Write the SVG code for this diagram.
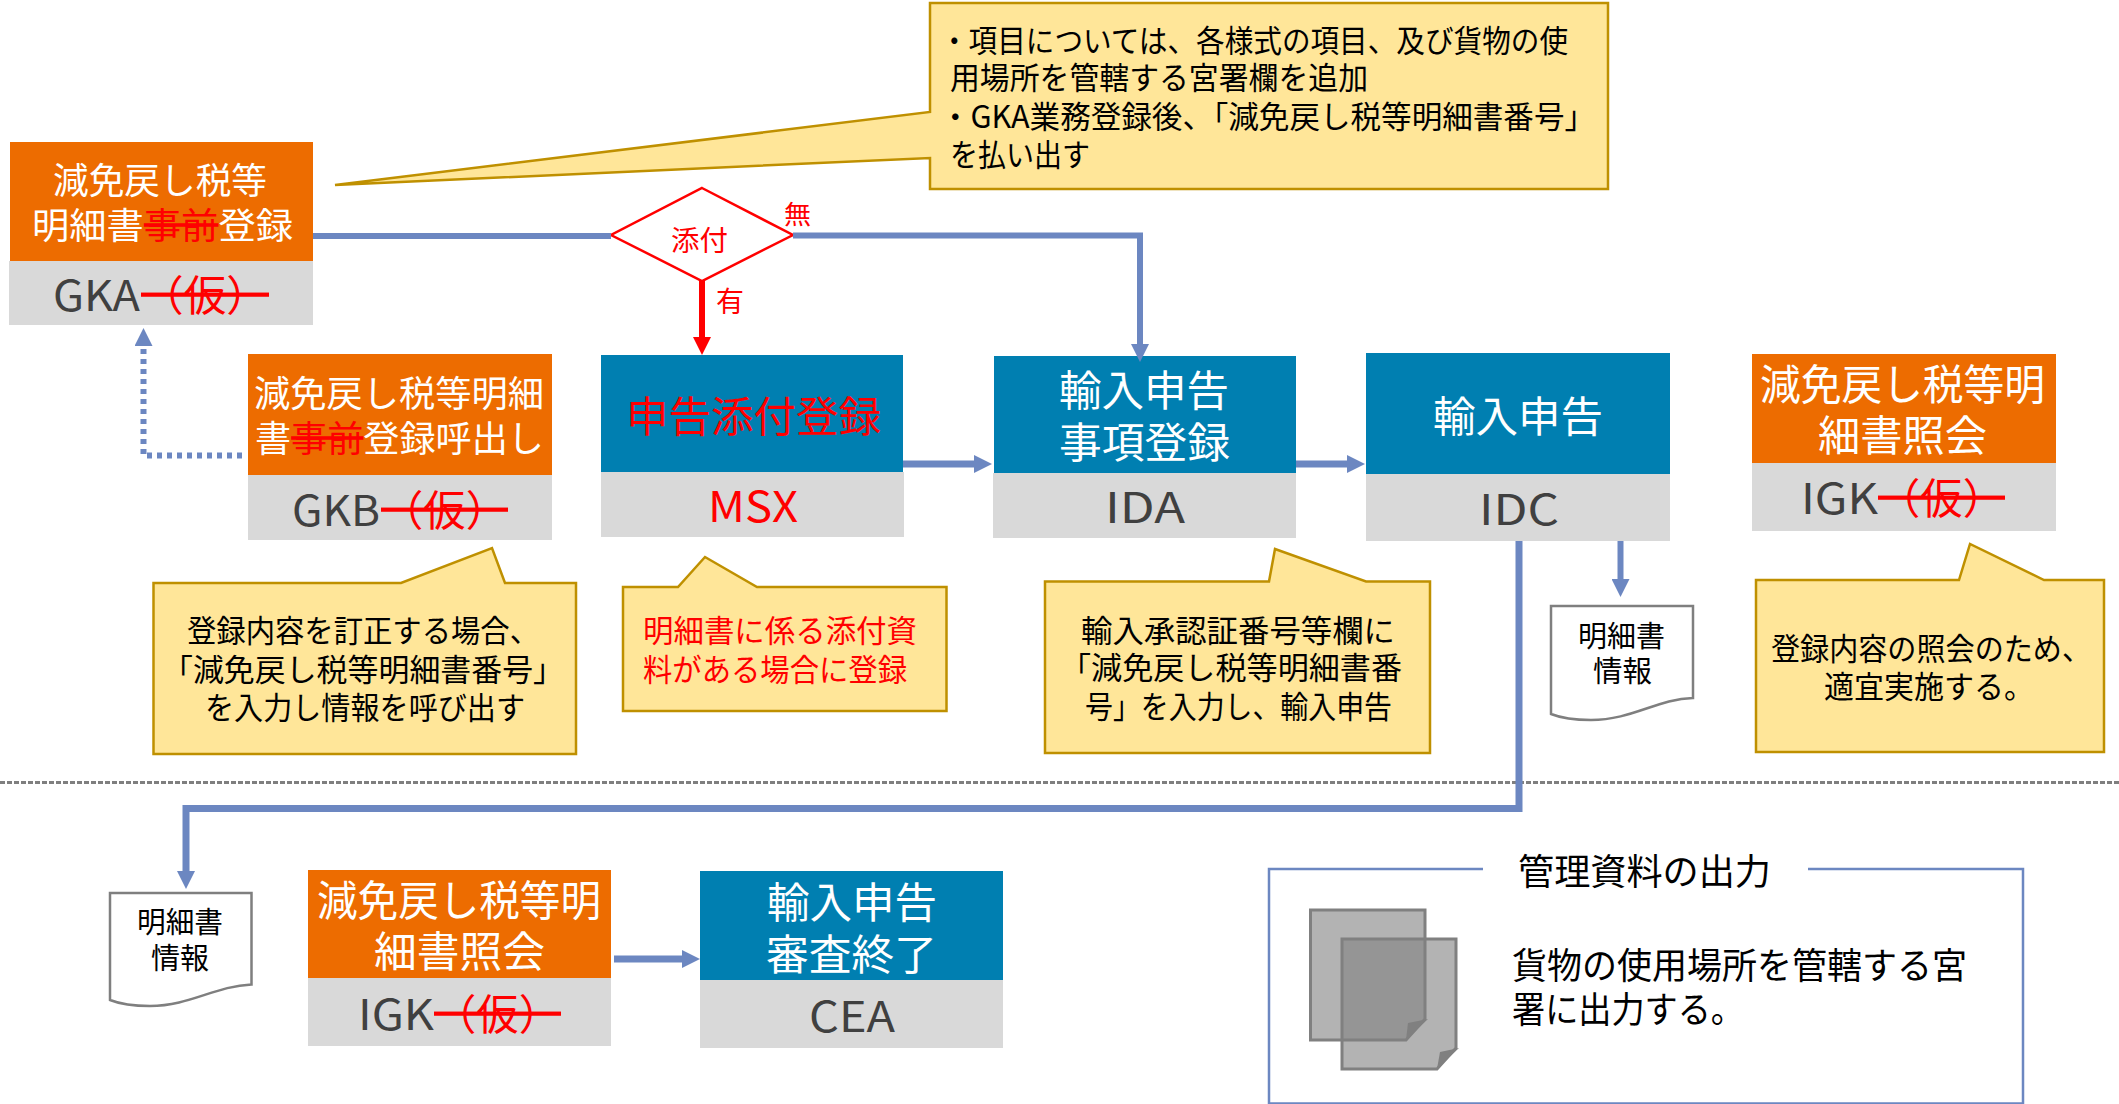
<svg xmlns="http://www.w3.org/2000/svg" width="2119" height="1104" viewBox="0 0 2119 1104">
<style>
text{font-family:"Noto Sans CJK JP","Noto Sans",sans-serif;}
.w{fill:#fff}.k{fill:#000}.d{fill:#404040}.r{fill:#f00}
.s{fill:#f00;text-decoration:line-through}
.t{font-size:36px}.c{font-size:42px}.n{font-size:31px}.m{font-size:29px}.b{font-size:36px}
.o{fill:#ED6C00}.u{fill:#007FB1}.g{fill:#D9D9D9}
.y{fill:#FFE699;stroke:#BF9000;stroke-width:2.5}
.doc{fill:#fff;stroke:#7F7F7F;stroke-width:2.5}
.pg{fill:#808080;fill-opacity:.6;stroke:#808080;stroke-width:3}
.fold{fill:#808080}
.l{fill:none;stroke:#6C87C1}
</style>
<defs>
<marker id="ab" markerUnits="userSpaceOnUse" markerWidth="18" markerHeight="18" viewBox="0 0 18 18" refX="4" refY="9" orient="auto"><path d="M0 0L18 9L0 18Z" fill="#6C87C1"/></marker>
<marker id="ar" markerUnits="userSpaceOnUse" markerWidth="18" markerHeight="18" viewBox="0 0 18 18" refX="4" refY="9" orient="auto"><path d="M0 0L18 9L0 18Z" fill="#f00"/></marker>
</defs>
<g id="divider"><line x1="0" y1="782.5" x2="2119" y2="782.5" stroke="#7F7F7F" stroke-width="3" stroke-dasharray="5 2"/></g>
<g id="node-GKA"><rect class="o" x="10" y="142" width="303" height="119"/><rect class="g" x="9" y="261" width="304" height="64"/>
<text class="t w" x="53" y="194" textLength="214" lengthAdjust="spacingAndGlyphs">減免戻し税等</text>
<text class="t w" x="32" y="239" textLength="261" lengthAdjust="spacingAndGlyphs">明細書<tspan class="s">事前</tspan>登録</text>
<text class="c d" x="53" y="311"><tspan textLength="87" lengthAdjust="spacingAndGlyphs">GKA</tspan><tspan class="s" x="141" textLength="128" lengthAdjust="spacingAndGlyphs">（仮）</tspan></text></g>
<g id="node-GKB"><rect class="o" x="248" y="354" width="304" height="121"/><rect class="g" x="248" y="475" width="304" height="65"/>
<text class="t w" x="254" y="407" textLength="290" lengthAdjust="spacingAndGlyphs">減免戻し税等明細</text>
<text class="t w" x="255" y="452" textLength="289" lengthAdjust="spacingAndGlyphs">書<tspan class="s">事前</tspan>登録呼出し</text>
<text class="c d" x="292" y="526"><tspan textLength="88" lengthAdjust="spacingAndGlyphs">GKB</tspan><tspan class="s" x="381" textLength="127" lengthAdjust="spacingAndGlyphs">（仮）</tspan></text></g>
<g id="node-MSX"><rect class="u" x="601" y="355" width="302" height="117"/><rect class="g" x="601" y="472" width="303" height="65"/>
<text class="c r" x="626" y="432" textLength="255" lengthAdjust="spacingAndGlyphs">申告添付登録</text>
<text class="c r" x="708" y="522" textLength="90" lengthAdjust="spacingAndGlyphs">MSX</text></g>
<g id="node-IDA"><rect class="u" x="994" y="356" width="302" height="117"/><rect class="g" x="993" y="473" width="303" height="65"/>
<text class="c w" x="1059" y="406" textLength="170" lengthAdjust="spacingAndGlyphs">輸入申告</text>
<text class="c w" x="1059" y="458" textLength="171" lengthAdjust="spacingAndGlyphs">事項登録</text>
<text class="c d" x="1105" y="523" textLength="80" lengthAdjust="spacingAndGlyphs">IDA</text></g>
<g id="node-IDC"><rect class="u" x="1366" y="353" width="304" height="121"/><rect class="g" x="1366" y="474" width="304" height="67"/>
<text class="c w" x="1433" y="432" textLength="170" lengthAdjust="spacingAndGlyphs">輸入申告</text>
<text class="c d" x="1479" y="525" textLength="80" lengthAdjust="spacingAndGlyphs">IDC</text></g>
<g id="node-IGK-top"><rect class="o" x="1752" y="354" width="304" height="109"/><rect class="g" x="1752" y="463" width="304" height="68"/>
<text class="c w" x="1760" y="400" textLength="285" lengthAdjust="spacingAndGlyphs">減免戻し税等明</text>
<text class="c w" x="1818" y="451" textLength="169" lengthAdjust="spacingAndGlyphs">細書照会</text>
<text class="c d" x="1801" y="514"><tspan textLength="77" lengthAdjust="spacingAndGlyphs">IGK</tspan><tspan class="s" x="1878" textLength="127" lengthAdjust="spacingAndGlyphs">（仮）</tspan></text></g>
<g id="node-diamond"><path d="M702 188L793 235L702 281L611 235Z" fill="#fff" stroke="#f00" stroke-width="2.500"/>
<text class="r" font-size="28" x="671" y="251" textLength="57" lengthAdjust="spacingAndGlyphs">添付</text></g>
<g id="label-none"><text class="r" font-size="26" x="784" y="224" textLength="27" lengthAdjust="spacingAndGlyphs">無</text></g>
<g id="label-yes"><text class="r" font-size="28" x="716" y="312" textLength="28" lengthAdjust="spacingAndGlyphs">有</text></g>
<g id="note-top"><path class="y" d="M930 3H1608V189H930V158L335 185L930 112Z"/>
<text class="n k" x="940" y="52" textLength="628" lengthAdjust="spacingAndGlyphs">・項目については、各様式の項目、及び貨物の使</text>
<text class="n k" x="950" y="89" textLength="418" lengthAdjust="spacingAndGlyphs">用場所を管轄する宮署欄を追加</text>
<text class="n k" x="940" y="128" textLength="655" lengthAdjust="spacingAndGlyphs">・GKA業務登録後、「減免戻し税等明細書番号」</text>
<text class="n k" x="950" y="166" textLength="140" lengthAdjust="spacingAndGlyphs">を払い出す</text></g>
<g id="note-GKB"><path class="y" d="M153.500 583H401L492 548L505 583H576V754H153.500Z"/>
<text class="n k" x="187" y="642" textLength="352" lengthAdjust="spacingAndGlyphs">登録内容を訂正する場合、</text>
<text class="n k" x="162" y="681" textLength="402" lengthAdjust="spacingAndGlyphs">「減免戻し税等明細書番号」</text>
<text class="n k" x="205" y="719" textLength="320" lengthAdjust="spacingAndGlyphs">を入力し情報を呼び出す</text></g>
<g id="note-MSX"><path class="y" d="M623 587H678L705 557L757 587H946.500V711H623Z"/>
<text class="n r" x="643" y="642" textLength="274" lengthAdjust="spacingAndGlyphs">明細書に係る添付資</text>
<text class="n r" x="643" y="681" textLength="264" lengthAdjust="spacingAndGlyphs">料がある場合に登録</text></g>
<g id="note-IDA"><path class="y" d="M1045 581.500H1269L1275 549L1366 581.500H1430V753H1045Z"/>
<text class="n k" x="1081" y="642" textLength="314" lengthAdjust="spacingAndGlyphs">輸入承認証番号等欄に</text>
<text class="n k" x="1060" y="679" textLength="342" lengthAdjust="spacingAndGlyphs">「減免戻し税等明細書番</text>
<text class="n k" x="1085" y="718" textLength="307" lengthAdjust="spacingAndGlyphs">号」を入力し、輸入申告</text></g>
<g id="note-IGK"><path class="y" d="M1756 580H1959L1970 544L2044 580H2104V752H1756Z"/>
<text class="n k" x="1771" y="660" textLength="320" lengthAdjust="spacingAndGlyphs">登録内容の照会のため、</text>
<text class="n k" x="1824" y="698" textLength="210" lengthAdjust="spacingAndGlyphs">適宜実施する。</text></g>
<g id="doc-upper"><path class="doc" d="M1551 606H1693V698C1657 699 1632 720 1591 720C1573 720 1561 718 1551 714Z"/>
<text class="m k" x="1578" y="647" textLength="87" lengthAdjust="spacingAndGlyphs">明細書</text>
<text class="m k" x="1593" y="682" textLength="59" lengthAdjust="spacingAndGlyphs">情報</text></g>
<g id="doc-lower"><path class="doc" d="M110 893H251.500V984.500C215 986 190 1006 150 1006C132 1006 120 1004 110 1000Z"/>
<text class="m k" x="137" y="933" textLength="86" lengthAdjust="spacingAndGlyphs">明細書</text>
<text class="m k" x="151" y="969" textLength="58" lengthAdjust="spacingAndGlyphs">情報</text></g>
<g id="node-IGK-low"><rect class="o" x="308" y="870" width="303" height="108"/><rect class="g" x="308" y="978" width="303" height="68"/>
<text class="c w" x="317" y="916" textLength="284" lengthAdjust="spacingAndGlyphs">減免戻し税等明</text>
<text class="c w" x="374" y="967" textLength="171" lengthAdjust="spacingAndGlyphs">細書照会</text>
<text class="c d" x="358" y="1030"><tspan textLength="76" lengthAdjust="spacingAndGlyphs">IGK</tspan><tspan class="s" x="434" textLength="127" lengthAdjust="spacingAndGlyphs">（仮）</tspan></text></g>
<g id="node-CEA"><rect class="u" x="700" y="871" width="303" height="109"/><rect class="g" x="700" y="980" width="303" height="68"/>
<text class="c w" x="767" y="918" textLength="170" lengthAdjust="spacingAndGlyphs">輸入申告</text>
<text class="c w" x="766" y="970" textLength="171" lengthAdjust="spacingAndGlyphs">審査終了</text>
<text class="c d" x="809" y="1032" textLength="86" lengthAdjust="spacingAndGlyphs">CEA</text></g>
<g id="output-box"><path d="M1483 869H1269V1103.500H2023V869H1808" fill="none" stroke="#6C87C1" stroke-width="2.500"/>
<text class="b k" x="1518" y="885" textLength="253" lengthAdjust="spacingAndGlyphs">管理資料の出力</text>
<path class="pg" d="M1310.500 910H1425V1019L1406 1040H1310.500Z"/><path class="fold" d="M1406 1040L1428 1019L1408 1023Z"/>
<path class="pg" d="M1342 939H1456V1048L1437 1069H1342Z"/><path class="fold" d="M1437 1069L1459 1048L1440 1052Z"/>
<text class="b k" x="1512" y="979" textLength="455" lengthAdjust="spacingAndGlyphs">貨物の使用場所を管轄する宮</text>
<text class="b k" x="1512" y="1023" textLength="232" lengthAdjust="spacingAndGlyphs">署に出力する。</text></g>
<g id="connectors">
<path class="l" stroke-width="6" d="M313 236H611"/>
<path class="l" stroke-width="6" marker-end="url(#ab)" d="M793 235.500H1140V348"/>
<path fill="none" stroke="#f00" stroke-width="6" marker-end="url(#ar)" d="M702 281V341"/>
<path class="l" stroke-width="6" stroke-dasharray="5 5" marker-end="url(#ab)" d="M242 455.500H143.500V342"/>
<path class="l" stroke-width="7" marker-end="url(#ab)" d="M903 464H978"/>
<path class="l" stroke-width="7" marker-end="url(#ab)" d="M1296 464H1351"/>
<path class="l" stroke-width="6" marker-end="url(#ab)" d="M1620.500 541V583"/>
<path class="l" stroke-width="7" marker-end="url(#ab)" d="M1519 541V808.500H186V875"/>
<path class="l" stroke-width="7" marker-end="url(#ab)" d="M614 959H686"/>
</g>
</svg>
